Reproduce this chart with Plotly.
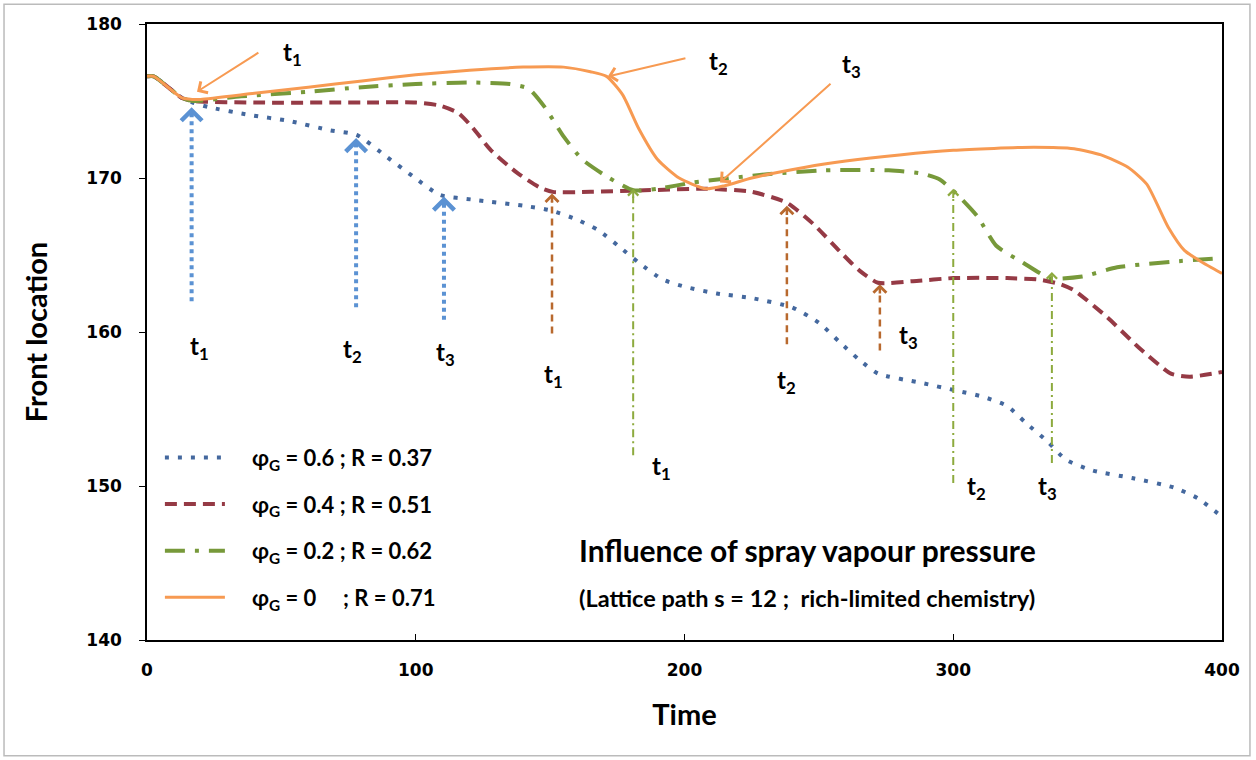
import plotly.graph_objects as go

# ---------------- data ----------------
t_blue = [0, 2.5, 13, 17, 23, 38, 53, 68, 78, 89, 99, 109, 121, 140, 150, 160, 168, 176, 183, 192, 201, 212,
          225, 240, 250, 258, 265, 272, 288, 301, 311, 320, 327, 335, 342, 352, 367, 382, 391, 400]
v_blue = [176.6, 176.6, 175.2, 174.9, 174.6, 174.1, 173.7, 173.1, 172.8, 171.4, 170.1, 168.9, 168.6, 168.2,
          167.9, 167.3, 166.6, 165.5, 164.5, 163.4, 162.9, 162.5, 162.2, 161.6, 160.6, 159.3, 158.2, 157.3,
          156.7, 156.2, 155.8, 155.2, 154.1, 152.9, 151.7, 151.0, 150.5, 149.9, 149.2, 148.0]

t_red = [0, 2.5, 13, 17, 40, 80, 100, 109, 116, 121, 128, 138, 146, 151, 165, 185, 208, 225, 238, 248, 258,
         265, 272, 285, 300, 320, 332, 340, 345, 357, 369, 381, 388, 400]
v_red = [176.6, 176.6, 175.2, 175.0, 174.9, 174.9, 174.9, 174.7, 174.2, 173.3, 171.8, 170.3, 169.4, 169.1,
         169.1, 169.2, 169.3, 169.1, 168.4, 167.0, 165.2, 164.0, 163.2, 163.3, 163.5, 163.5, 163.4, 163.1,
         162.7, 161.0, 159.0, 157.3, 157.1, 157.4]

t_green = [0, 2.5, 13, 17, 35, 60, 80, 100, 120, 135, 142, 148, 155, 162, 172, 181, 190, 203, 228, 252, 276,
           288, 295, 301, 309, 316, 326, 336, 348, 361, 384, 400]
v_green = [176.6, 176.6, 175.2, 175.0, 175.3, 175.6, 175.9, 176.1, 176.2, 176.1, 175.8, 174.6, 172.7, 171.2,
           170.0, 169.2, 169.3, 169.7, 170.2, 170.5, 170.5, 170.3, 169.9, 169.0, 167.5, 165.6, 164.5, 163.5,
           163.6, 164.2, 164.6, 164.8]

t_orange = [0, 2.5, 13, 17, 20, 40, 60, 80, 100, 120, 140, 155, 165, 171, 177, 183, 190, 198, 208, 215, 225,
            245, 260, 280, 300, 330, 345, 355, 365, 372, 380, 386, 392, 400]
v_orange = [176.6, 176.6, 175.2, 175.1, 175.1, 175.5, 175.9, 176.3, 176.7, 177.0, 177.2, 177.2, 176.9, 176.6,
            175.4, 173.2, 171.2, 170.0, 169.3, 169.5, 170.0, 170.7, 171.1, 171.5, 171.8, 172.0, 171.9, 171.5,
            170.7, 169.6, 166.8, 165.3, 164.6, 163.8]

series_names = ["φ<sub>G</sub> = 0.6 ; R = 0.37", "φ<sub>G</sub> = 0.4 ; R = 0.51",
                "φ<sub>G</sub> = 0.2 ; R = 0.62", "φ<sub>G</sub> = 0     ; R = 0.71"]

# vertical arrows (time, base value, tip value) and their labels
blue_arrow_t = [16.6, 77.8, 110.5]
blue_arrow_base = [162.0, 161.6, 160.8]
blue_arrow_tip = [174.6, 172.6, 168.8]
blue_label_t = [19.7, 76.3, 110.9]
blue_label_v = [159.0, 158.8, 158.6]

brown_arrow_t = [150.7, 238.1, 272.7]
brown_arrow_base = [159.9, 159.2, 158.8]
brown_arrow_tip = [169.0, 168.2, 163.1]
brown_label_t = [151.1, 238.1, 283.5]
brown_label_v = [157.2, 156.8, 159.7]

green_arrow_t = [180.9, 300.0, 336.7]
green_arrow_base = [152.0, 150.2, 151.5]
green_arrow_tip = [169.3, 169.3, 163.9]
green_label_t = [191.6, 308.8, 335.0]
green_label_v = [151.2, 149.9, 149.9]

# orange pointer arrows (tail -> head) and labels
orange_tail_t = [42.0, 200.9, 254.9]
orange_tail_v = [178.2, 177.8, 176.2]
orange_head_t = [18.6, 171.5, 213.2]
orange_head_v = [175.6, 176.6, 169.7]
orange_label_t = [54.0, 212.5, 262.3]
orange_label_v = [178.1, 177.5, 177.3]

label_texts = ["t<sub>1</sub>", "t<sub>2</sub>", "t<sub>3</sub>"]

# ---------------- styles ----------------
C_BLUE, C_RED, C_GREEN, C_ORANGE = "#44689E", "#953A45", "#77993A", "#F79A52"
A_BLUE, A_BROWN, A_GREEN, A_ORANGE = "#5B92D3", "#B8692E", "#8DAA3E", "#F79A52"
TXT_FONT = "Lato, 'Open Sans', sans-serif"
PAD = "\u2002\u2002"

fig = go.Figure()

series = [
    (t_blue, v_blue, C_BLUE, 4, "4px,9px"),
    (t_red, v_red, C_RED, 4, "12px,7px"),
    (t_green, v_green, C_GREEN, 4, "20px,10px,4px,10px"),
    (t_orange, v_orange, C_ORANGE, 3, "solid"),
]
for i, (tt, vv, col, w, dash) in enumerate(series):
    fig.add_trace(go.Scatter(x=tt, y=vv, mode="lines", name=PAD + series_names[i],
                             legendgroup=f"g{i}",
                             line=dict(color=col, width=w, dash=dash, shape="spline", smoothing=0.6)))

def add_vertical_arrows(ts, bases, tips, col, width, dash, lts, lvs):
    for k in range(len(ts)):
        fig.add_trace(go.Scatter(x=[ts[k], ts[k]], y=[bases[k], tips[k] - 0.5], mode="lines",
                                 showlegend=False, hoverinfo="skip",
                                 line=dict(color=col, width=width, dash=dash)))
        fig.add_annotation(x=ts[k], y=tips[k], ax=ts[k], ay=tips[k] - 0.7, xref="x", yref="y",
                           axref="x", ayref="y", text="", showarrow=True, arrowhead=4,
                           arrowsize=1.0, arrowwidth=width, arrowcolor=col)
        fig.add_annotation(x=lts[k], y=lvs[k], xref="x", yref="y", text=label_texts[k],
                           showarrow=False, font=dict(family=TXT_FONT, size=24, color="black", weight="bold"))

add_vertical_arrows(blue_arrow_t, blue_arrow_base, blue_arrow_tip, A_BLUE, 4, "4px,4px", blue_label_t, blue_label_v)
add_vertical_arrows(brown_arrow_t, brown_arrow_base, brown_arrow_tip, A_BROWN, 2.5, "7px,5px", brown_label_t, brown_label_v)
add_vertical_arrows(green_arrow_t, green_arrow_base, green_arrow_tip, A_GREEN, 2, "8px,4px,2px,4px", green_label_t, green_label_v)

for k in range(3):
    fig.add_annotation(x=orange_head_t[k], y=orange_head_v[k], ax=orange_tail_t[k], ay=orange_tail_v[k],
                       xref="x", yref="y", axref="x", ayref="y", text="", showarrow=True,
                       arrowhead=4, arrowsize=1.3, arrowwidth=2, arrowcolor=A_ORANGE)
    fig.add_annotation(x=orange_label_t[k], y=orange_label_v[k], xref="x", yref="y", text=label_texts[k],
                       showarrow=False, font=dict(family=TXT_FONT, size=24, color="black", weight="bold"))

fig.add_annotation(x=0.614, y=0.114, xref="paper", yref="paper", text="Influence of spray vapour pressure",
                   showarrow=False, font=dict(family=TXT_FONT, size=30, color="black", weight="bold"))
fig.add_annotation(x=0.614, y=0.042, xref="paper", yref="paper",
                   text="(Lattice path s = 12 ;  rich-limited chemistry)",
                   showarrow=False, font=dict(family=TXT_FONT, size=23.5, color="black", weight="bold"))

# outer border of the picture
fig.add_shape(type="rect", xref="paper", yref="paper", x0=-0.133, x1=1.026, y0=-0.188, y1=1.032,
              line=dict(color="#BBBBBB", width=1.5))

fig.update_layout(
    width=1256, height=760,
    margin=dict(l=147, r=34, t=24, b=120),
    paper_bgcolor="white", plot_bgcolor="white",
    showlegend=True,
    legend=dict(x=0.012, y=0.33, xanchor="left", yanchor="top", bgcolor="rgba(0,0,0,0)",
                font=dict(family=TXT_FONT, size=22, color="black", weight="bold"),
                itemwidth=60, tracegroupgap=15, traceorder="grouped"),
    xaxis=dict(range=[0, 400], tickvals=[0, 100, 200, 300, 400], showgrid=False, zeroline=False,
               showline=True, linecolor="black", linewidth=1.5, mirror=True,
               ticks="inside", ticklen=6, tickcolor="black", ticklabelstandoff=14,
               tickfont=dict(family="DejaVu Sans", size=17, color="black", weight="bold"),
               title=dict(text="Time", font=dict(family=TXT_FONT, size=29, color="black", weight="bold"),
                          standoff=26)),
    yaxis=dict(range=[140, 180], tickvals=[140, 150, 160, 170, 180], showgrid=False, zeroline=False,
               showline=True, linecolor="black", linewidth=1.5, mirror=True,
               ticks="outside", ticklen=6, tickcolor="black", ticklabelstandoff=14,
               tickfont=dict(family="DejaVu Sans", size=17, color="black", weight="bold"),
               title=dict(text="Front location", font=dict(family=TXT_FONT, size=29, color="black", weight="bold"),
                          standoff=30)),
)

fig.write_html("out.html", config={"displayModeBar": False},
               post_script="document.body.style.margin='0px';")
